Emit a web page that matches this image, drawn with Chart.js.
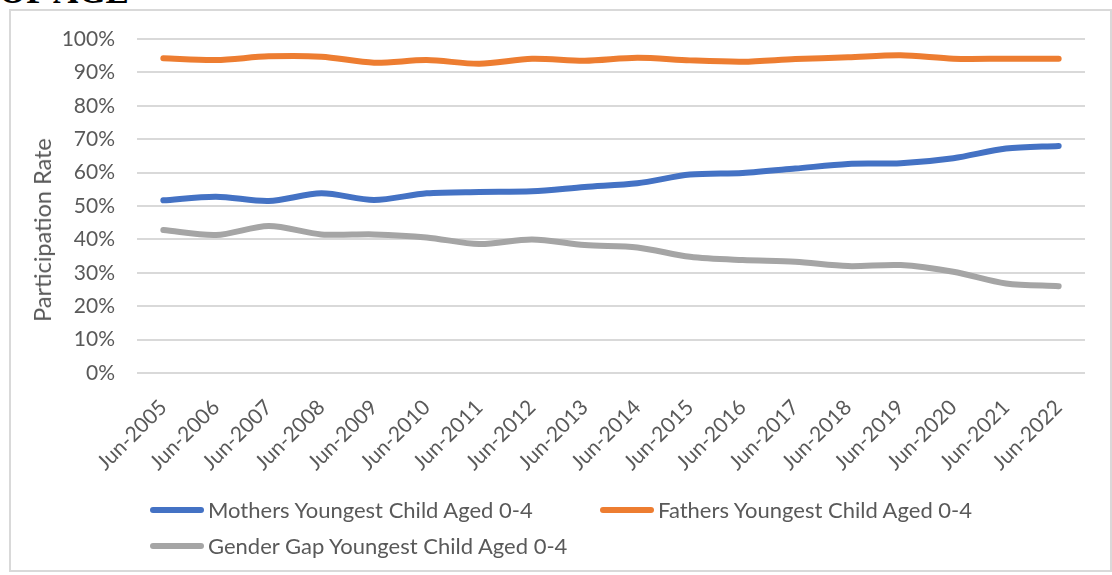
<!DOCTYPE html>
<html>
<head>
<meta charset="utf-8">
<script src="https://cdn.jsdelivr.net/npm/chart.js@4.4.1/dist/chart.umd.min.js"></script>
<style>
  html, body { margin: 0; padding: 0; background: #fff; }
  body { width: 1112px; height: 575px; position: relative; overflow: hidden; font-family: Lato, sans-serif; }
  .cut-title { position: absolute; left: -1px; top: -26px; font: bold 35px "Liberation Serif", serif; color: #000; line-height: 1; white-space: nowrap; }
  .frame { position: absolute; left: 9px; top: 9px; width: 1099px; height: 559px; border: 2px solid #d9d9d9; }
  #chart { position: absolute; left: 0; top: 0; }
  .ytitle { position: absolute; left: 42px; top: 230px; transform: translate(-50%, -50%) rotate(-90deg); font-size: 23.5px; color: #595959; white-space: nowrap; }
  .legend-item { position: absolute; display: flex; align-items: center; font-size: 22px; color: #595959; white-space: nowrap; }
  .legend-item .swatch { width: 54px; height: 6px; border-radius: 3px; margin-right: 4px; }
</style>
</head>
<body>
<div class="cut-title">OF AGE</div>
<div class="frame"></div>
<canvas id="chart" width="1112" height="575"></canvas>
<div class="ytitle">Participation Rate</div>
<div id="legend"></div>
<script>
const years = ['Jun-2005', 'Jun-2006', 'Jun-2007', 'Jun-2008', 'Jun-2009', 'Jun-2010',
    'Jun-2011', 'Jun-2012', 'Jun-2013', 'Jun-2014', 'Jun-2015', 'Jun-2016',
    'Jun-2017', 'Jun-2018', 'Jun-2019', 'Jun-2020', 'Jun-2021', 'Jun-2022'];

const mothers = [51.7, 52.8, 51.5, 53.8, 51.8, 53.8, 54.2, 54.4, 55.7, 56.8, 59.4, 59.9, 61.2, 62.6, 62.8, 64.3, 67.2, 68.0];
const fathers = [94.2, 93.7, 94.8, 94.7, 92.9, 93.7, 92.6, 94.1, 93.5, 94.4, 93.6, 93.2, 94.0, 94.5, 95.1, 94.1, 94.1, 94.1];
const genderGap = [42.8, 41.3, 44.0, 41.5, 41.5, 40.6, 38.6, 40.0, 38.3, 37.6, 34.8, 33.8, 33.3, 32.0, 32.3, 30.3, 26.8, 26.0];

const seriesNames = ['Mothers Youngest Child Aged 0-4', 'Fathers Youngest Child Aged 0-4', 'Gender Gap Youngest Child Aged 0-4'];
const seriesColors = ['#4472C4', '#ED7D31', '#A5A5A5'];

const yTicks = [0, 10, 20, 30, 40, 50, 60, 70, 80, 90, 100];

function lineSet(i, values) {
    return {
        label: seriesNames[i],
        data: values,
        borderColor: seriesColors[i],
        backgroundColor: seriesColors[i],
        borderWidth: 6,
        borderCapStyle: 'round',
        borderJoinStyle: 'round',
        pointRadius: 0,
        tension: 0.3,
        fill: false
    };
}

const chart = new Chart(document.getElementById('chart').getContext('2d'), {
    type: 'line',
    data: {
        labels: years,
        datasets: [lineSet(0, mothers), lineSet(1, fathers), lineSet(2, genderGap)]
    },
    options: {
        responsive: false,
        animation: false,
        layout: { padding: { left: 0, top: 39, right: 27, bottom: 0 } },
        scales: {
            x: {
                offset: true,
                grid: { display: false, drawTicks: false },
                border: { display: false },
                ticks: {
                    autoSkip: false,
                    minRotation: 45,
                    maxRotation: 45,
                    padding: 22,
                    color: '#595959',
                    font: { family: 'Lato, sans-serif', size: 21 }
                },
                afterFit: s => { s.height = 202; }
            },
            y: {
                min: 0,
                max: 100,
                afterBuildTicks: s => { s.ticks = yTicks.map(v => ({ value: v })); },
                grid: { color: '#d9d9d9', lineWidth: 2, drawTicks: false },
                border: { display: false },
                ticks: {
                    padding: 22,
                    color: '#595959',
                    font: { family: 'Lato, sans-serif', size: 21 },
                    callback: v => v + '%'
                },
                afterFit: s => { s.width = 137; }
            }
        },
        plugins: {
            legend: { display: false },
            tooltip: { enabled: false }
        }
    }
});

// legend built from the datasets, laid out like the original (2 + 1 rows)
const legendSpots = [[150, 510], [600, 510], [150, 546]];
const legendBox = document.getElementById('legend');
chart.data.datasets.forEach((ds, i) => {
    const item = document.createElement('div');
    item.className = 'legend-item';
    item.style.left = legendSpots[i][0] + 'px';
    item.style.top = (legendSpots[i][1] - 14) + 'px';
    item.innerHTML = '<span class="swatch" style="background:' + ds.borderColor + '"></span><span>' + ds.label + '</span>';
    legendBox.appendChild(item);
});
</script>
</body>
</html>
